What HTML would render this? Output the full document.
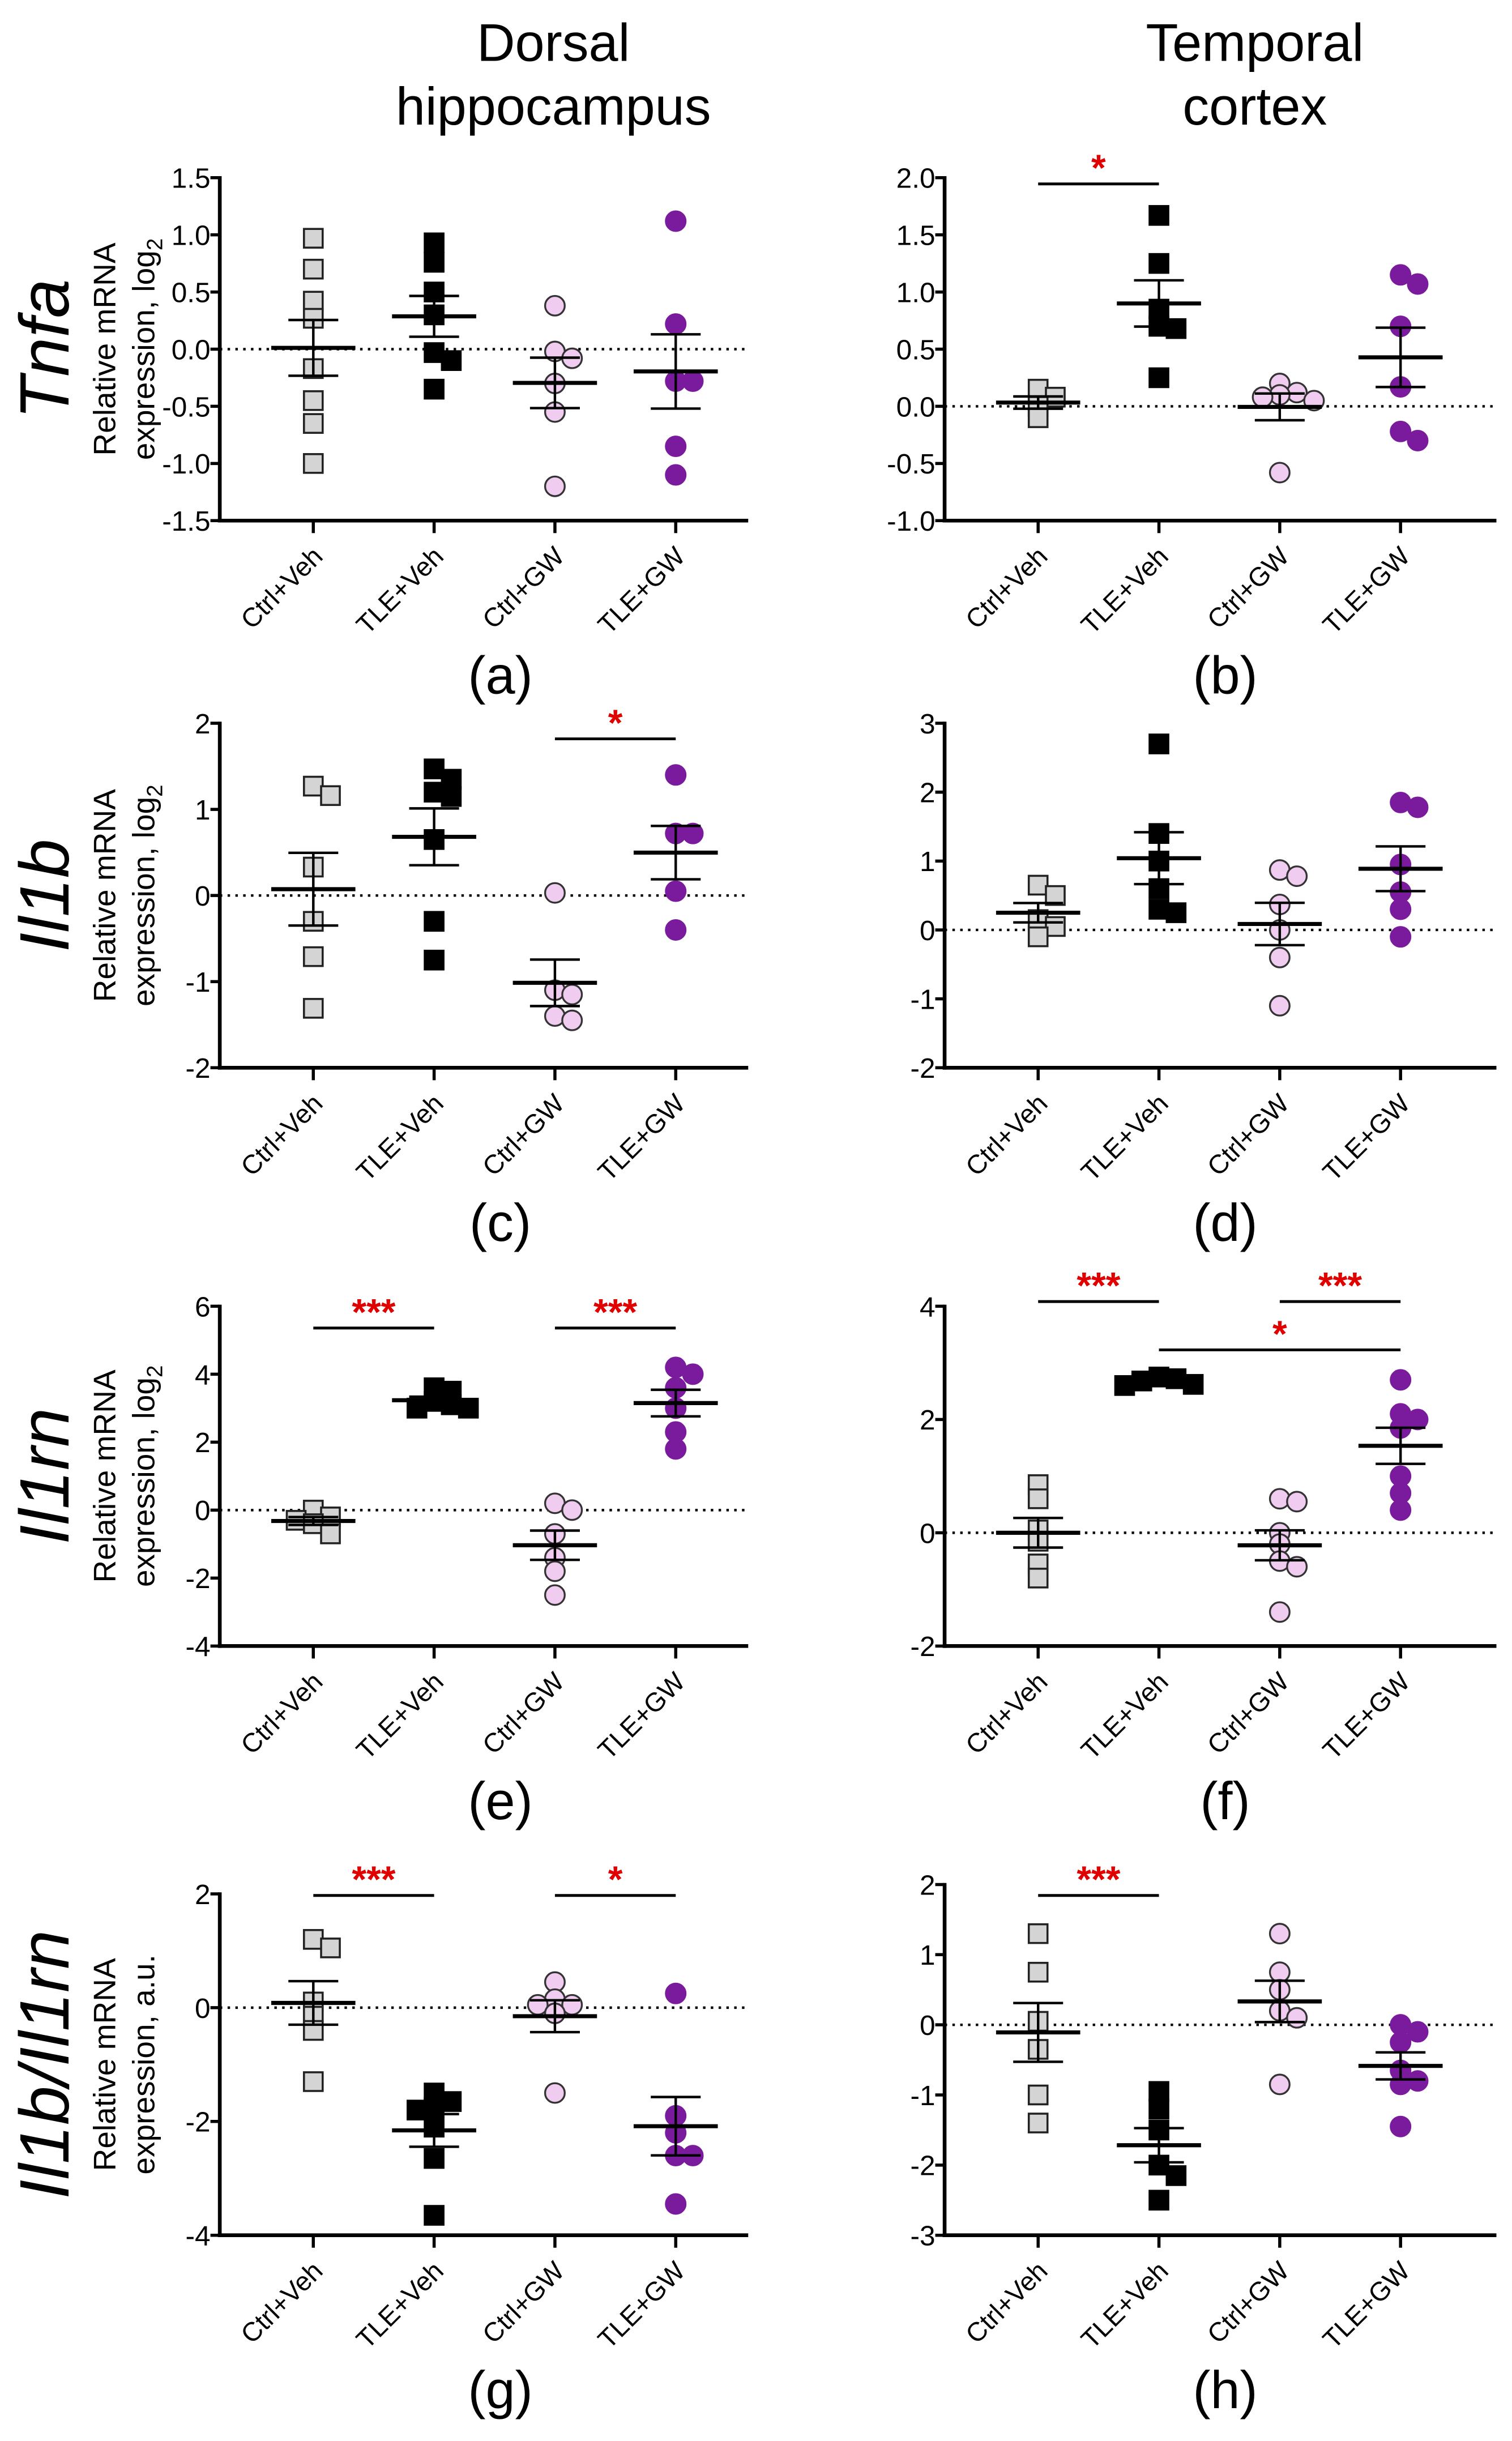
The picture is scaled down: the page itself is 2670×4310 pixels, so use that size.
<!DOCTYPE html>
<html><head><meta charset="utf-8"><style>
html,body{margin:0;padding:0;background:#fff;}
svg{display:block;font-family:"Liberation Sans",Arial,sans-serif;}
</style></head><body>
<svg id="fig" width="2670" height="4310" viewBox="0 0 970 1566" preserveAspectRatio="none" xmlns="http://www.w3.org/2000/svg">
<rect width="970" height="1566" fill="#fff"/>
<text x="355" y="39" font-size="34" text-anchor="middle">Dorsal</text>
<text x="355" y="80" font-size="34" text-anchor="middle">hippocampus</text>
<text x="805" y="39" font-size="34" text-anchor="middle">Temporal</text>
<text x="805" y="80" font-size="34" text-anchor="middle">cortex</text>
<g id="plots"></g>
</svg>
<script>
const categories = ["Ctrl+Veh","TLE+Veh","Ctrl+GW","TLE+GW"];
// panel data: values per group
const dataA = [[0.97,0.7,0.42,0.27,-0.17,-0.45,-0.65,-1.0],[0.93,0.76,0.5,0.3,-0.03,-0.1,-0.35],[0.38,-0.02,-0.08,-0.3,-0.55,-1.2],[1.12,0.22,-0.28,-0.28,-0.85,-1.1]];
const dataB = [[0.15,0.08,0.0,-0.1],[1.67,1.25,0.85,0.7,0.68,0.25],[0.2,0.12,0.1,0.08,0.05,-0.58],[1.15,1.07,0.7,0.17,-0.22,-0.3]];
const dataC = [[1.27,1.16,0.33,-0.3,-0.71,-1.31],[1.47,1.35,1.2,1.15,0.65,-0.3,-0.75],[0.03,-1.1,-1.15,-1.4,-1.45],[1.4,0.72,0.72,0.05,-0.4]];
const dataD = [[0.65,0.5,0.15,0.05,-0.1],[2.7,1.4,1.0,0.6,0.3,0.25],[0.78,0.87,0.37,0.0,-0.4,-1.1],[1.78,1.85,0.95,0.55,0.3,-0.1]];
const dataE = [[0.0,-0.2,-0.3,-0.4,-0.7],[3.6,3.5,3.2,3.0,3.0,3.1],[0.2,0.0,-0.7,-1.4,-1.8,-2.5],[4.2,4.0,3.6,3.0,2.3,1.8]];
const dataF = [[0.85,0.6,0.05,-0.15,-0.55,-0.8],[2.75,2.72,2.68,2.62,2.6],[0.55,0.6,0.0,-0.2,-0.5,-0.6,-1.4],[2.7,2.1,2.0,1.85,1.0,0.7,0.4]];
const dataG = [[1.2,1.05,0.1,-0.15,-0.4,-1.3],[-1.5,-1.65,-1.75,-1.8,-2.1,-2.65,-3.65],[0.45,0.15,0.05,0.05,-0.1,-1.5],[0.25,-1.9,-2.2,-2.6,-2.6,-3.45]];
const dataH = [[1.3,0.75,0.05,-0.35,-1.0,-1.4],[-0.95,-1.2,-1.5,-2.0,-2.15,-2.5],[1.3,0.75,0.5,0.2,0.1,-0.85],[0.0,-0.1,-0.25,-0.65,-0.8,-0.85,-1.45]];
const ticksA = ["1.5","1.0","0.5","0.0","-0.5","-1.0","-1.5"];
const ticksB = ["2.0","1.5","1.0","0.5","0.0","-0.5","-1.0"];
const ticksC = ["2","1","0","-1","-2"];
const ticksD = ["3","2","1","0","-1","-2"];
const ticksE = ["6","4","2","0","-2","-4"];
const ticksF = ["4","2","0","-2"];
const ticksG = ["2","0","-2","-4"];
const ticksH = ["2","1","0","-1","-2","-3"];
// significance: [groupA, groupB, stars]
const sigA = [], sigB = [[0,1,"*"]], sigC = [[2,3,"*"]], sigD = [];
const sigE = [[0,1,"***"],[2,3,"***"]], sigF = [[0,1,"***"],[2,3,"***"],[1,3,"*"]];
const sigG = [[0,1,"***"],[2,3,"*"]], sigH = [[0,1,"***"]];

const NS="http://www.w3.org/2000/svg";
const root=document.getElementById('plots');
function mk(tag,attrs,parent,text){const e=document.createElementNS(NS,tag);for(const k in attrs)e.setAttribute(k,attrs[k]);if(text!==undefined)e.textContent=text;(parent||root).appendChild(e);return e;}

const styles=[{shape:'sq',fill:'#d4d4d4',stroke:'#222'},{shape:'sq',fill:'#000',stroke:'#000'},{shape:'ci',fill:'#f0cdf0',stroke:'#333'},{shape:'ci',fill:'#7a1a9c',stroke:'#7a1a9c'}];

function panel(cfg){
  const g=mk('g',{});
  
  
  const tv=cfg.ticks.map(Number);
  const ymax=Math.max(...tv), ymin=Math.min(...tv);
  const Y=v=>cfg.bot-(v-ymin)/(ymax-ymin)*(cfg.bot-cfg.top);
  const X=i=>cfg.x0+60+i*77.5;
  const zl=mk('line',{x1:cfg.x0,x2:cfg.xEnd,y1:Y(0),y2:Y(0),stroke:'#000','stroke-width':1.6,'stroke-dasharray':'1.6 3.4'},g);
  
  
  const ya=mk('line',{x1:cfg.x0,x2:cfg.x0,y1:cfg.top-1,y2:cfg.bot+1.2,stroke:'#000','stroke-width':2.4},g);
  
  
  const xa=mk('line',{x1:cfg.x0-1.2,x2:cfg.xEnd,y1:cfg.bot,y2:cfg.bot,stroke:'#000','stroke-width':2.4},g);
  
  
  cfg.ticks.forEach((t,k)=>{
    const v=tv[k];
    mk('line',{x1:cfg.x0-6,x2:cfg.x0,y1:Y(v),y2:Y(v),stroke:'#000','stroke-width':2},g);
    const tl=mk('text',{x:cfg.x0-6,y:Y(v)+6.5,'font-size':18,'text-anchor':'end'},g,t);
    
    
  });
  categories.forEach((c,i)=>{
    mk('line',{x1:X(i),x2:X(i),y1:cfg.bot,y2:cfg.bot+8,stroke:'#000','stroke-width':2},g);
    const cl=mk('text',{x:X(i)+7,y:cfg.bot+24,'font-size':17,'text-anchor':'end',transform:`rotate(-45 ${X(i)+7} ${cfg.bot+24})`},g,c);
    
    
  });
  cfg.data.forEach((vals,i)=>{
    const st=styles[i];
    const placed=[];
    const sorted=vals.slice().sort((a,b)=>b-a);
    sorted.forEach(v=>{
      const y=Y(v);let off=0,step=0;
      const clash=o=>placed.some(p=>Math.abs(p.y-y)<7&&Math.abs(p.o-o)<11);
      while(clash(off)){step++;off=(step%2?1:-1)*Math.ceil(step/2)*11;}
      placed.push({y,o:off});
      let m;
      if(st.shape==='sq') m=mk('rect',{x:X(i)+off-6,y:y-6,width:12,height:12,fill:st.fill,stroke:st.stroke,'stroke-width':1.3},g);
      else m=mk('circle',{cx:X(i)+off,cy:y,r:6.3,fill:st.fill,stroke:st.stroke,'stroke-width':1.2},g);
      
      
    });
    const n=vals.length, mean=vals.reduce((a,b)=>a+b,0)/n;
    const sd=Math.sqrt(vals.reduce((a,b)=>a+(b-mean)**2,0)/(n-1)), sem=sd/Math.sqrt(n);
    const ml=mk('line',{x1:X(i)-27,x2:X(i)+27,y1:Y(mean),y2:Y(mean),stroke:'#000','stroke-width':2.6},g);
    
    
    const eb=mk('path',{d:`M${X(i)} ${Y(mean+sem)}V${Y(mean-sem)}M${X(i)-16} ${Y(mean+sem)}H${X(i)+16}M${X(i)-16} ${Y(mean-sem)}H${X(i)+16}`,stroke:'#000','stroke-width':1.6,fill:'none'},g);
    
    
  });
  cfg.sig.forEach((s,k)=>{
    const ly=cfg.sigY[k];
    const sl=mk('line',{x1:X(s[0]),x2:X(s[1]),y1:ly,y2:ly,stroke:'#000','stroke-width':1.8},g);
    
    
    const st=mk('text',{x:(X(s[0])+X(s[1]))/2,y:ly-2,'font-size':24,'font-weight':'bold',fill:'#e00000','text-anchor':'middle'},g,s[2]);
    
    
  });
  const pl=mk('text',{x:cfg.x0+180,y:cfg.bot+111,'font-size':34,'text-anchor':'middle'},g,'('+cfg.letter+')');
  
  
  if(cfg.ytitle){
    const cy=(cfg.top+cfg.bot)/2;
    const t1=mk('text',{x:74,y:cy,'font-size':20,'text-anchor':'middle',transform:`rotate(-90 74 ${cy})`},g,'Relative mRNA');
    
    
    const t2=mk('text',{x:99,y:cy,'font-size':20,'text-anchor':'middle',transform:`rotate(-90 99 ${cy})`},g);
    
    
    if(cfg.ytitle==='log'){t2.textContent='expression, log';mk('tspan',{'font-size':14,dy:5},t2,'2');}
    else t2.textContent='expression, a.u.';
    const rl=mk('text',{x:44,y:cy,'font-size':45,'font-style':'italic','text-anchor':'middle',transform:`rotate(-90 44 ${cy})`},g,cfg.row);
    
    
  }
}
const L=141,R=606;
panel({letter:'a',x0:L,xEnd:480,top:114,bot:334,ticks:ticksA,data:dataA,sig:sigA,sigY:[],ytitle:'log',row:'Tnfa'});
panel({letter:'b',x0:R,xEnd:960,top:114,bot:334,ticks:ticksB,data:dataB,sig:sigB,sigY:[118]});
panel({letter:'c',x0:L,xEnd:480,top:464,bot:685,ticks:ticksC,data:dataC,sig:sigC,sigY:[474],ytitle:'log',row:'Il1b'});
panel({letter:'d',x0:R,xEnd:960,top:464,bot:685,ticks:ticksD,data:dataD,sig:sigD,sigY:[]});
panel({letter:'e',x0:L,xEnd:480,top:838,bot:1056,ticks:ticksE,data:dataE,sig:sigE,sigY:[852,852],ytitle:'log',row:'Il1rn'});
panel({letter:'f',x0:R,xEnd:960,top:838,bot:1056,ticks:ticksF,data:dataF,sig:sigF,sigY:[835,835,866]});
panel({letter:'g',x0:L,xEnd:480,top:1215,bot:1434,ticks:ticksG,data:dataG,sig:sigG,sigY:[1216,1216],ytitle:'au',row:'Il1b/Il1rn'});
panel({letter:'h',x0:R,xEnd:960,top:1209,bot:1434,ticks:ticksH,data:dataH,sig:sigH,sigY:[1216]});
</script>
</body></html>
